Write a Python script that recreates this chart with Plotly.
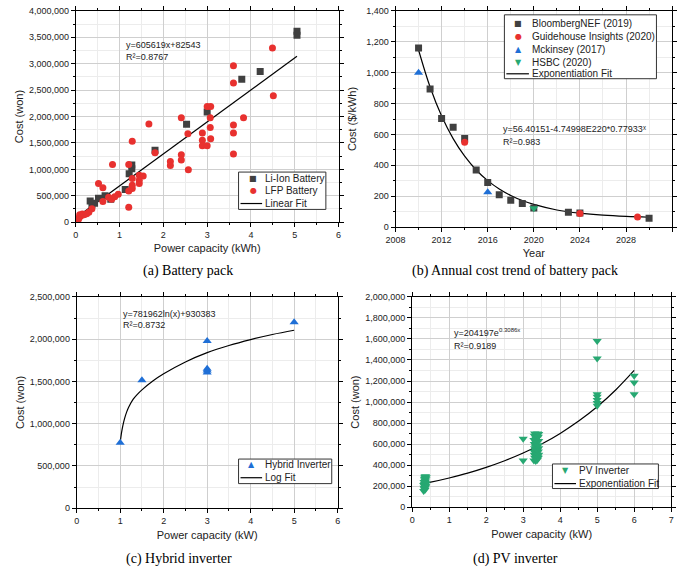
import plotly.graph_objects as go

W, H = 682, 581

# ---------------- (a) Battery pack ----------------
liion_x = [0.33, 0.37, 0.43, 0.52, 0.67, 0.80, 1.13, 1.22, 1.28, 1.28, 1.81, 2.53, 3.00, 3.79, 4.21, 5.05, 5.05]
liion_y = [403000, 330000, 360000, 453000, 500000, 434000, 620000, 918000, 1085000, 1010000,
           1364000, 1854000, 2084000, 2704000, 2853000, 3616000, 3541000]
lfp_x = [4.49, 3.60, 3.60, 4.51, 3.00, 3.08, 3.07, 3.83, 2.41, 1.67, 3.60, 3.07, 2.56, 2.89, 3.60,
         2.89, 3.08, 1.29, 2.89, 3.00, 1.81, 2.41, 3.60, 2.41, 2.16, 2.16, 2.57, 0.84, 1.21, 1.29,
         1.45, 1.54, 1.45, 1.45, 1.29, 1.29, 1.21, 1.21, 0.52, 0.62, 0.62, 0.97, 0.89, 0.75, 0.82,
         0.37, 0.30, 0.15, 0.11, 0.07, 0.06, 0.04, 0.19, 0.25, 0.09]
lfp_y = [3299000, 2964000, 2636000, 2394000, 2189000, 2189000, 1978000, 1978000, 1978000, 1860000,
         1842000, 1792000, 1674000, 1687000, 1687000, 1550000, 1581000, 1532000, 1445000, 1445000,
         1315000, 1277000, 1290000, 1178000, 1147000, 1073000, 992000, 1091000, 1091000, 825000,
         887000, 874000, 794000, 732000, 701000, 639000, 589000, 285000, 732000, 651000,
         391000, 527000, 484000, 471000, 434000, 254000, 186000, 155000, 112000, 81000,
         50000, 31000, 143000, 161000, 143000]
linfit_x = [0.06, 5.05]
linfit_y = [119000, 3141000]

# ---------------- (b) Annual cost trend ----------------
bnef_x = [2010, 2011, 2012, 2013, 2014, 2015, 2016, 2017, 2018, 2019, 2020, 2023, 2024, 2030]
bnef_y = [1160, 894, 703, 646, 574, 370, 289, 210, 174, 153, 124, 96, 91, 58]
guide_x = [2014, 2024, 2029]
guide_y = [550, 88, 65]
mck_x = [2010, 2016]
mck_y = [1000, 226]
hsbc_x = [2020]
hsbc_y = [122]
expb_x = [2010, 2011, 2012, 2013, 2014, 2015, 2016, 2017, 2018, 2019, 2020, 2022, 2024, 2026, 2028, 2030]
expb_y = [1147, 907, 719, 573, 459, 370, 301, 247, 205, 172, 147, 111, 90, 77, 69, 64]

# ---------------- (c) Hybrid inverter ----------------
hyb_x = [1.0, 1.5, 3.0, 3.0, 3.0, 3.0, 5.0]
hyb_y = [773000, 1515000, 1978000, 1650000, 1630000, 1604000, 2199000]
logfit_x = [1.0, 1.03, 1.06, 1.1, 1.15, 1.2, 1.3, 1.4, 1.5, 1.75, 2.0, 2.5, 3.0, 3.5, 4.0, 4.5, 5.0]
logfit_y = [775000, 890000, 975000, 1060000, 1140000, 1200000, 1290000, 1350000, 1400000, 1505000,
            1590000, 1730000, 1840000, 1925000, 1995000, 2055000, 2105000]

# ---------------- (d) PV inverter ----------------
pv_x = [0.31, 0.33, 0.35, 0.32, 0.36, 0.34, 0.31, 0.37, 0.33, 0.35, 0.38, 0.32, 0.36, 0.34, 0.37,
        0.33, 0.35, 0.38, 0.34, 0.36,
        3.29, 3.31, 3.30, 3.29, 3.31, 3.30, 3.29, 3.30, 3.31,
        3.34, 3.35, 3.33, 3.35, 3.34, 3.33, 3.35, 3.34, 3.35,
        3.38, 3.39, 3.37, 3.38, 3.39, 3.37, 3.38, 3.39,
        3.41, 3.42, 3.41, 3.42, 3.41, 3.42, 3.41, 3.42,
        3.0, 3.0,
        5.0, 5.0, 5.0, 5.0, 5.0, 5.0, 5.0,
        6.0, 6.0, 6.0]
pv_y = [155000, 170000, 165000, 185000, 190000, 200000, 210000, 205000, 220000, 230000, 225000,
        240000, 245000, 255000, 265000, 270000, 280000, 285000, 290000, 295000,
        445000, 470000, 500000, 530000, 560000, 600000, 640000, 680000, 700000,
        440000, 460000, 490000, 520000, 545000, 575000, 610000, 650000, 690000,
        450000, 480000, 510000, 540000, 580000, 620000, 660000, 700000,
        470000, 500000, 530000, 560000, 590000, 630000, 670000, 695000,
        650000, 445000,
        1580000, 1415000, 1075000, 1050000, 1020000, 990000, 965000,
        1250000, 1185000, 1075000]
pvfit_x = [0.33, 0.5, 1.0, 1.5, 2.0, 2.5, 3.0, 3.5, 4.0, 4.5, 5.0, 5.5, 6.0]
pvfit_y = [226000, 238000, 278000, 324000, 379000, 442000, 515000, 601000, 702000, 819000, 955000,
           1115000, 1301000]

# ---------------- styling ----------------
C_GRAY = "#404040"
C_RED = "#e8312f"
C_BLUE = "#1f6fd6"
C_GREEN = "#27a872"
FONT = "Arial, Liberation Sans, sans-serif"


def px_x(p):
    return p / W


def px_y(p):
    return 1 - p / H


fig = go.Figure()


def add_scatter(x, y, xa, ya, symbol, color, size=7, name=""):
    fig.add_trace(go.Scatter(x=x, y=y, mode="markers", xaxis=xa, yaxis=ya, name=name,
                             marker=dict(symbol=symbol, color=color, size=size, line=dict(width=0)),
                             showlegend=False))


def add_line(x, y, xa, ya, name="", spline=False):
    fig.add_trace(go.Scatter(x=x, y=y, mode="lines", xaxis=xa, yaxis=ya, name=name,
                             line=dict(color="black", width=1.2, shape="spline" if spline else "linear"),
                             showlegend=False))


add_line(linfit_x, linfit_y, "x", "y", "Linear Fit")
add_scatter(liion_x, liion_y, "x", "y", "square", C_GRAY, 7, "Li-Ion Battery")
add_scatter(lfp_x, lfp_y, "x", "y", "circle", C_RED, 7, "LFP Battery")

add_line(expb_x, expb_y, "x2", "y2", "Exponentiation Fit", spline=True)
add_scatter(bnef_x, bnef_y, "x2", "y2", "square", C_GRAY, 7, "BloombergNEF (2019)")
add_scatter(guide_x, guide_y, "x2", "y2", "circle", C_RED, 7, "Guidehouse Insights (2020)")
add_scatter(mck_x, mck_y, "x2", "y2", "triangle-up", C_BLUE, 8, "Mckinsey (2017)")
add_scatter(hsbc_x, hsbc_y, "x2", "y2", "triangle-down", C_GREEN, 8, "HSBC (2020)")

add_line(logfit_x, logfit_y, "x3", "y3", "Log Fit", spline=True)
add_scatter(hyb_x, hyb_y, "x3", "y3", "triangle-up", C_BLUE, 8, "Hybrid Inverter")

add_line(pvfit_x, pvfit_y, "x4", "y4", "Exponentiation Fit", spline=True)
add_scatter(pv_x, pv_y, "x4", "y4", "triangle-down", C_GREEN, 8, "PV Inverter")


def axis(domain, rng, dtick, mdtick, anchor, title, standoff, fmt=None):
    d = dict(domain=domain, range=rng, dtick=dtick, tick0=rng[0], anchor=anchor,
             showline=True, linecolor="black", linewidth=1, mirror="allticks",
             ticks="outside", ticklen=4, tickwidth=1, tickcolor="black",
             showgrid=True, gridcolor="#cfcfcf", gridwidth=1, zeroline=False,
             minor=dict(dtick=mdtick, showgrid=True, gridcolor="#ececec", ticks="outside",
                        ticklen=2, tickcolor="black"),
             tickfont=dict(family=FONT, size=9, color="#222"), fixedrange=True,
             title=dict(text=title, standoff=standoff, font=dict(family=FONT, size=11, color="#222")))
    if fmt:
        d["tickformat"] = fmt
    return d


# plot areas in pixels
A = (67, 335, 6, 221)
B = (393, 675, 6, 226)
Cc = (68, 334, 297, 512)
D = (410, 674, 297, 511)


def xd(r):
    return [px_x(r[0]), px_x(r[1])]


def yd(r):
    return [px_y(r[3]), px_y(r[2])]


fig.update_layout(
    width=W, height=H, margin=dict(l=0, r=0, t=0, b=0),
    paper_bgcolor="white", plot_bgcolor="white", showlegend=False,
    xaxis=axis(xd(A), [0, 6], 1, 0.5, "y", "Power capacity (kWh)", 5),
    yaxis=axis(yd(A), [0, 4000000], 500000, 250000, "x", "Cost (won)", 3, ",d"),
    xaxis2=axis(xd(B), [2008, 2032], 4, 2, "y2", "Year", 5),
    yaxis2=axis(yd(B), [0, 1400], 200, 100, "x2", "Cost ($/kWh)", 7, ",d"),
    xaxis3=axis(xd(Cc), [0, 6], 1, 0.5, "y3", "Power capacity (kW)", 6),
    yaxis3=axis(yd(Cc), [0, 2500000], 500000, 250000, "x3", "Cost (won)", 3, ",d"),
    xaxis4=axis(xd(D), [0, 7], 1, 0.5, "y4", "Power capacity (kW)", 6),
    yaxis4=axis(yd(D), [0, 2000000], 200000, 100000, "x4", "Cost (won)", 3, ",d"),
)

ann = []
shapes = []


def text(x, y, t, size=9, angle=0, xanchor="center", family=FONT, color="#222"):
    ann.append(dict(x=px_x(x), y=px_y(y), xref="paper", yref="paper", text=t, showarrow=False,
                    xanchor=xanchor, yanchor="middle", textangle=angle, borderpad=0, borderwidth=0,
                    font=dict(family=family, size=size, color=color)))


# captions
SERIF = "Liberation Serif, Times New Roman, serif"
text(181, 271, "(a) Battery pack", 14, family=SERIF, color="black")
text(515, 271, "(b) Annual cost trend of battery pack", 14, family=SERIF, color="black")
text(172, 564, "(c) Hybrid inverter", 14, family=SERIF, color="black")
text(515, 564, "(d) PV inverter", 14, family=SERIF, color="black")

# fit equations (unicode superscripts)
text(118, 41, "y=605619x+82543", 9, xanchor="left")
text(118, 53, "R\u00b2=0.8767", 9, xanchor="left")
text(503, 126, "y=56.40151-4.74998E220*0.77933\u02e3", 9, xanchor="left")
text(503, 139, "R\u00b2=0.983", 9, xanchor="left")
text(115, 314, "y=781962ln(x)+930383", 9, xanchor="left")
text(115, 326, "R\u00b2=0.8732", 9, xanchor="left")
text(453, 334, "y=204197e", 9, xanchor="left")
text(498.5, 331, "0.3086x", 6, xanchor="left")
text(453, 347, "R\u00b2=0.9189", 9, xanchor="left")

# custom legends
SYM = {"square": "\u25a0", "circle": "\u25cf", "triangle-up": "\u25b2", "triangle-down": "\u25bc"}


def legend(box, sym_x, line_x, text_x, rows):
    x0, y0, x1, y1 = box
    shapes.append(dict(type="rect", xref="paper", yref="paper", x0=px_x(x0), x1=px_x(x1),
                       y0=px_y(y1), y1=px_y(y0), line=dict(color="#333", width=1),
                       fillcolor="white", layer="above"))
    for (kind, color, label, yy) in rows:
        if kind == "line":
            shapes.append(dict(type="line", xref="paper", yref="paper", x0=px_x(line_x[0]),
                               x1=px_x(line_x[1]), y0=px_y(yy), y1=px_y(yy),
                               line=dict(color="black", width=1.2), layer="above"))
        else:
            ann.append(dict(x=px_x(sym_x), y=px_y(yy), xref="paper", yref="paper",
                            text=SYM[kind], showarrow=False, xanchor="center", yanchor="middle",
                            borderpad=0, borderwidth=0,
                            font=dict(family="DejaVu Sans", size=8, color=color)))
        ann.append(dict(x=px_x(text_x), y=px_y(yy), xref="paper", yref="paper", text=label,
                        showarrow=False, xanchor="left", yanchor="middle", borderpad=0,
                        borderwidth=0, font=dict(family=FONT, size=10, color="#222")))


legend((233, 170, 322, 208), 248, (235, 257), 260,
       [("square", C_GRAY, "Li-Ion Battery", 177),
        ("circle", C_RED, "LFP Battery", 189),
        ("line", None, "Linear Fit", 202)])
legend((504, 10, 659, 75), 518, (506, 529), 532,
       [("square", C_GRAY, "BloombergNEF (2019)", 19),
        ("circle", C_RED, "Guidehouse Insights (2020)", 32),
        ("triangle-up", C_BLUE, "Mckinsey (2017)", 45),
        ("triangle-down", C_GREEN, "HSBC (2020)", 58),
        ("line", None, "Exponentiation Fit", 70)])
legend((233, 462, 328, 487), 246, (235, 257), 260,
       [("triangle-up", C_BLUE, "Hybrid Inverter", 468),
        ("line", None, "Log Fit", 481)])
legend((553, 467, 661, 492), 566, (555, 577), 580,
       [("triangle-down", C_GREEN, "PV Inverter", 474),
        ("line", None, "Exponentiation Fit", 487)])

fig.update_layout(annotations=ann, shapes=shapes)

fig.write_html("out.html", config={"displayModeBar": False, "displaylogo": False},
               post_script="document.body.style.margin='0';document.body.style.overflow='hidden';")
